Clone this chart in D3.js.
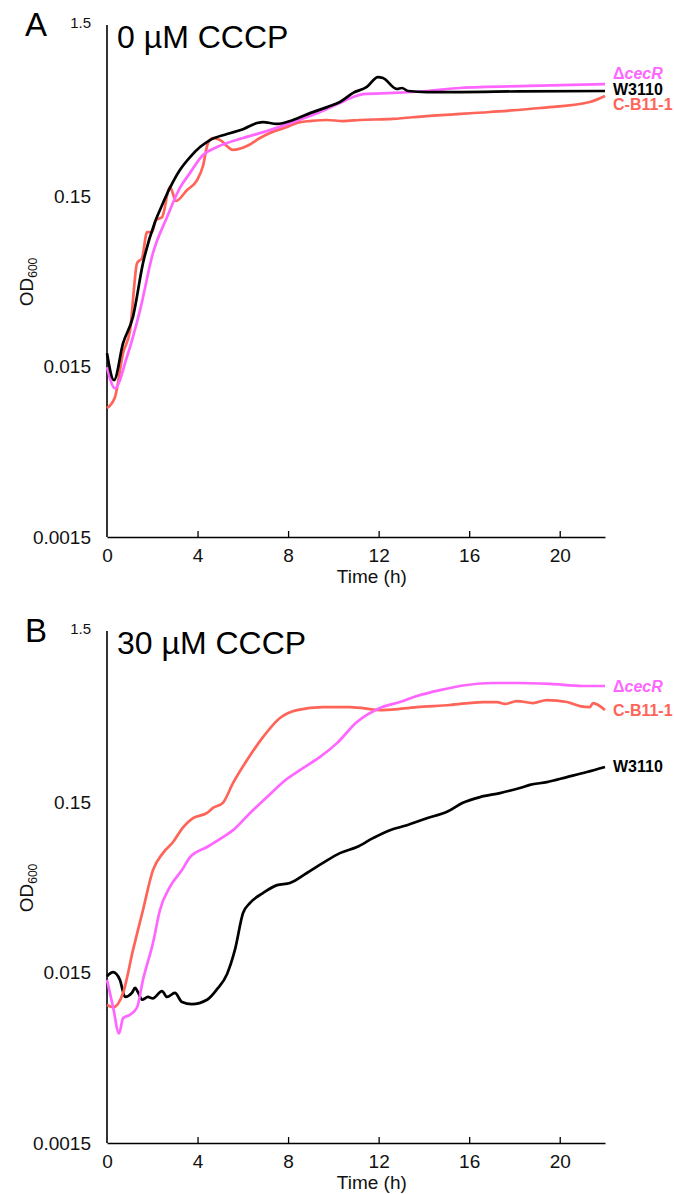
<!DOCTYPE html>
<html>
<head>
<meta charset="utf-8">
<script src="https://cdn.jsdelivr.net/npm/d3@7"></script>
<style>
  body { margin: 0; background: #fff; }
  text { font-family: "Liberation Sans", Arial, sans-serif; }
</style>
</head>
<body>
<div id="chart"></div>
<script>
// ---- data (time in h, OD600) ----
// panel A : 0 uM CCCP
var tA_W3110 = [0, 0.31, 0.71, 1.15, 1.59, 2.12, 2.43, 2.78, 3.22, 3.67, 4.11, 4.55, 5.3, 6.01, 6.63, 6.89, 7.51, 8.22, 8.97, 9.72, 10.29, 10.87, 11.48, 11.97, 12.19, 12.81, 13.03, 13.3, 14.13, 15.59, 18.24, 22];
var odA_W3110 = [0.018, 0.0125, 0.0206, 0.0295, 0.0608, 0.106, 0.133, 0.168, 0.214, 0.255, 0.292, 0.321, 0.348, 0.372, 0.404, 0.409, 0.399, 0.421, 0.462, 0.501, 0.537, 0.607, 0.658, 0.752, 0.743, 0.64, 0.649, 0.623, 0.614, 0.614, 0.62, 0.623];

var tA_cecR = [0, 0.35, 0.88, 1.46, 2.03, 2.65, 3.22, 3.67, 4.24, 4.86, 6.01, 7.2, 8.22, 9.41, 10.29, 10.87, 11.31, 12.63, 14.13, 15.59, 18.68, 22];
var odA_cecR = [0.0149, 0.0112, 0.0171, 0.0322, 0.0697, 0.113, 0.168, 0.206, 0.262, 0.292, 0.33, 0.367, 0.409, 0.469, 0.53, 0.574, 0.598, 0.607, 0.623, 0.649, 0.667, 0.684];

var tA_CB11 = [0, 0.35, 0.71, 1.02, 1.33, 1.55, 1.77, 1.99, 2.16, 2.43, 2.78, 3.05, 3.53, 3.98, 4.24, 4.46, 4.68, 4.99, 5.57, 6.18, 6.76, 7.2, 7.95, 8.52, 8.97, 9.72, 10.42, 11.17, 12.63, 14.13, 16.92, 19.13, 21.33, 22];
var odA_CB11 = [0.00857, 0.00993, 0.018, 0.0246, 0.0608, 0.0652, 0.0925, 0.0925, 0.109, 0.113, 0.17, 0.141, 0.163, 0.187, 0.226, 0.308, 0.33, 0.321, 0.281, 0.296, 0.33, 0.353, 0.383, 0.409, 0.415, 0.421, 0.415, 0.421, 0.427, 0.444, 0.469, 0.495, 0.537, 0.582];

// panel B : 30 uM CCCP
var tB_W3110 = [0, 0.27, 0.57, 0.8, 1.1, 1.24, 1.37, 1.55, 1.81, 2.03, 2.43, 2.65, 3.0, 3.31, 3.75, 4.42, 4.86, 5.3, 5.65, 6.01, 6.32, 6.89, 7.51, 8.08, 8.83, 9.54, 10.29, 11.04, 11.75, 12.5, 13.25, 14.13, 15.02, 15.72, 16.48, 17.36, 18.24, 18.68, 19.43, 20.32, 21.2, 22];
var odB_W3110 = [0.0143, 0.0151, 0.0136, 0.0108, 0.0114, 0.0122, 0.0115, 0.0104, 0.0108, 0.0106, 0.0117, 0.0108, 0.0114, 0.0101, 0.0098, 0.0104, 0.012, 0.0147, 0.0204, 0.0336, 0.0385, 0.044, 0.049, 0.0504, 0.0577, 0.0661, 0.0755, 0.082, 0.0925, 0.103, 0.11, 0.121, 0.132, 0.149, 0.161, 0.17, 0.182, 0.19, 0.197, 0.211, 0.226, 0.242];

var tB_cecR = [0, 0.27, 0.53, 0.71, 1.02, 1.33, 1.59, 2.03, 2.34, 2.78, 3.31, 3.67, 4.42, 5.12, 5.57, 6.32, 7.07, 7.77, 8.66, 9.41, 10.16, 11.04, 12.06, 12.94, 13.69, 14.71, 15.9, 17.01, 18.11, 19.57, 21.02, 22];
var odB_cecR = [0.0136, 0.0094, 0.0066, 0.0081, 0.0085, 0.0094, 0.0136, 0.0224, 0.035, 0.0478, 0.06, 0.0716, 0.082, 0.0938, 0.103, 0.13, 0.161, 0.197, 0.238, 0.277, 0.334, 0.444, 0.537, 0.582, 0.631, 0.684, 0.733, 0.753, 0.753, 0.743, 0.723, 0.723];

var tB_CB11 = [0, 0.27, 0.71, 1.15, 1.59, 2.03, 2.47, 2.92, 3.36, 3.8, 4.42, 4.68, 5.12, 5.57, 6.18, 6.89, 7.64, 8.39, 9.54, 10.73, 12.19, 13.69, 15.15, 16.61, 17.23, 17.58, 18.11, 18.82, 19.43, 20.32, 20.89, 21.33, 21.47, 22];
var odB_CB11 = [0.0097, 0.0094, 0.0114, 0.0204, 0.035, 0.06, 0.0755, 0.0877, 0.107, 0.121, 0.13, 0.139, 0.149, 0.195, 0.265, 0.362, 0.469, 0.522, 0.544, 0.544, 0.522, 0.544, 0.559, 0.582, 0.582, 0.567, 0.59, 0.574, 0.598, 0.582, 0.551, 0.544, 0.574, 0.522];

var xTicks = [0, 4, 8, 12, 16, 20];
var yTicks = [0.0015, 0.015, 0.15, 1.5];

var pink = "#ff66ff", salmon = "#ff6459", black = "#000000";

var panels = [
  { letter: "A", title: "0 \u00b5M CCCP", top: 26,
    series: [
      { t: tA_CB11, od: odA_CB11, color: salmon },
      { t: tA_cecR, od: odA_cecR, color: pink },
      { t: tA_W3110, od: odA_W3110, color: black }
    ],
    labels: [
      { name: "cecR", delta: true, color: pink, y: 79 },
      { name: "W3110", color: black, y: 95 },
      { name: "C-B11-1", color: salmon, y: 110 }
    ] },
  { letter: "B", title: "30 \u00b5M CCCP", top: 632,
    series: [
      { t: tB_W3110, od: odB_W3110, color: black },
      { t: tB_CB11, od: odB_CB11, color: salmon },
      { t: tB_cecR, od: odB_cecR, color: pink }
    ],
    labels: [
      { name: "cecR", delta: true, color: pink, y: 692 },
      { name: "C-B11-1", color: salmon, y: 716 },
      { name: "W3110", color: black, y: 772 }
    ] }
];

var width = 674, height = 1194;
var left = 107, right = 605, plotH = 511;

var svg = d3.select("#chart").append("svg")
  .attr("width", width)
  .attr("height", height);

var x = d3.scaleLinear().domain([0, 22]).range([left, right]);

panels.forEach(function(p) {
  var y = d3.scaleLog().domain([0.0015, 1.5]).range([p.top + plotH, p.top]);
  var g = svg.append("g");

  // x axis
  var xa = g.append("g")
    .attr("transform", "translate(0," + (p.top + plotH) + ")")
    .call(d3.axisBottom(x).tickValues(xTicks).tickSizeInner(-6).tickSizeOuter(0).tickPadding(12));
  xa.select(".domain").attr("stroke", "#000").attr("stroke-width", 1.6);
  xa.selectAll(".tick line").attr("stroke", "#000").attr("stroke-width", 1.3)
    .filter(function(d) { return d === 0; }).remove();
  xa.selectAll(".tick text").attr("font-size", 19).attr("fill", "#111")
    .attr("font-family", "'Liberation Sans', Arial, sans-serif");

  // y axis
  var ya = g.append("g")
    .attr("transform", "translate(" + left + ",0)")
    .call(d3.axisLeft(y).tickValues(yTicks).tickSize(0).tickPadding(16)
      .tickFormat(function(d) { return String(d); }));
  ya.select(".domain").attr("stroke", "#000").attr("stroke-width", 1.6)
    .attr("d", "M0," + (p.top - 1) + "V" + (p.top + plotH));
  ya.selectAll(".tick text").attr("fill", "#111")
    .attr("font-family", "'Liberation Sans', Arial, sans-serif")
    .attr("font-size", function(d) { return d === 1.5 ? 15 : 19; })
    .attr("dy", function(d) { return d === 1.5 ? "0.1em" : "0.32em"; });

  // axis titles
  g.append("text")
    .attr("x", x(11.7)).attr("y", p.top + plotH + 46)
    .attr("text-anchor", "middle").attr("font-size", 18).attr("fill", "#111")
    .attr("textLength", 70).attr("lengthAdjust", "spacingAndGlyphs")
    .text("Time (h)");

  var od = g.append("text")
    .attr("transform", "translate(33," + (p.top + 256) + ") rotate(-90)")
    .attr("text-anchor", "middle").attr("font-size", 19).attr("fill", "#111");
  od.append("tspan").text("OD");
  od.append("tspan").attr("font-size", 12).attr("dy", 4).text("600");

  // panel letter + condition
  g.append("text").attr("x", 25).attr("y", p.top + 10)
    .attr("font-size", 33).attr("fill", "#000").text(p.letter);
  g.append("text").attr("x", 117).attr("y", p.top + 22)
    .attr("font-size", 32).attr("fill", "#000").text(p.title);

  // curves
  var line = d3.line()
    .x(function(d) { return x(d[0]); })
    .y(function(d) { return y(d[1]); })
    .curve(d3.curveMonotoneX);

  p.series.forEach(function(s) {
    g.append("path")
      .datum(d3.zip(s.t, s.od))
      .attr("fill", "none")
      .attr("stroke", s.color)
      .attr("stroke-width", 2.7)
      .attr("stroke-linejoin", "round")
      .attr("d", line);
  });

  // labels at the line ends
  p.labels.forEach(function(l) {
    var t = g.append("text").attr("x", 613).attr("y", l.y)
      .attr("font-size", 16).attr("font-weight", "bold").attr("fill", l.color);
    if (l.delta) {
      t.append("tspan").text("\u0394");
      t.append("tspan").attr("font-style", "italic").text(l.name);
    } else {
      t.text(l.name);
    }
  });
});
</script>
</body>
</html>
